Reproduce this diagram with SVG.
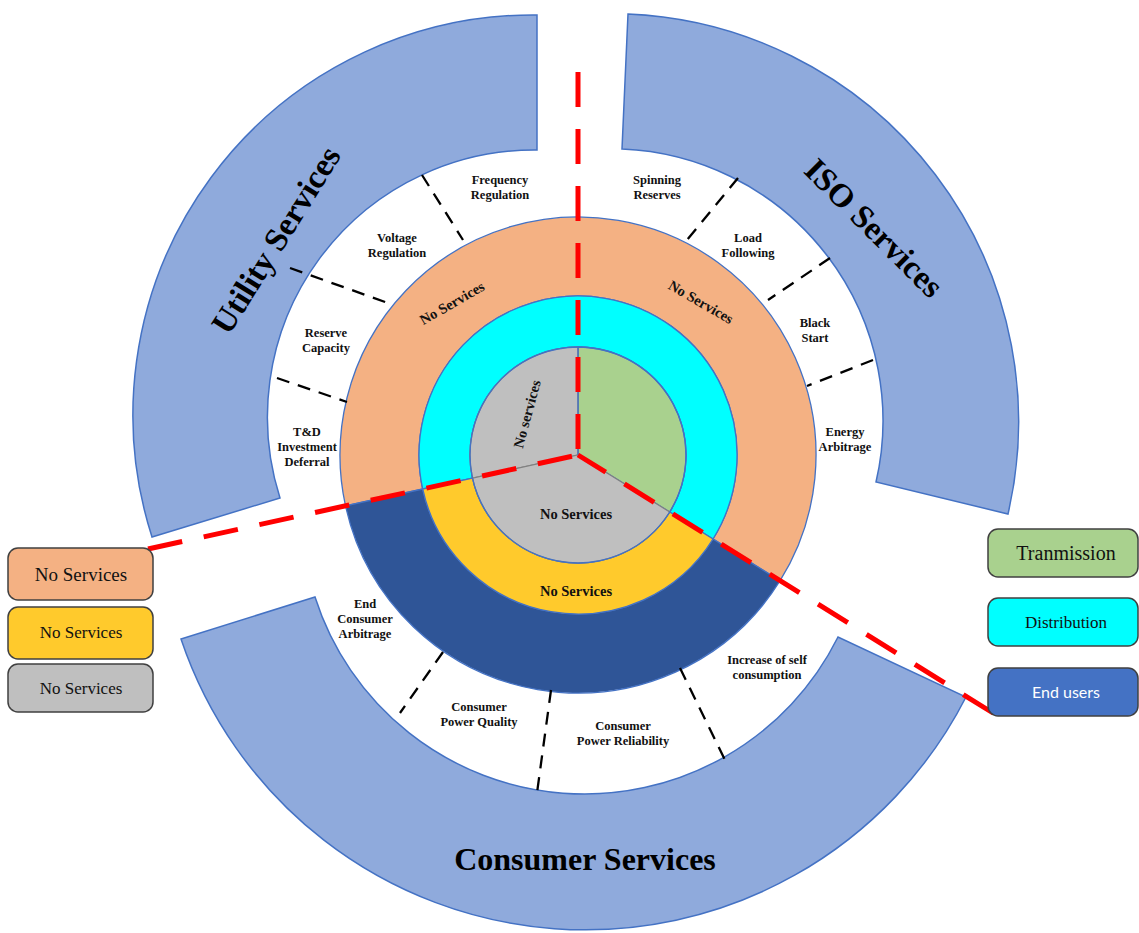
<svg xmlns="http://www.w3.org/2000/svg" width="1139" height="933" viewBox="0 0 1139 933">
<style>
.svc{font-family:"Liberation Serif","Times New Roman",serif;font-weight:bold;font-size:12.5px;text-anchor:middle;fill:#111}
.big{font-family:"Liberation Serif","Times New Roman",serif;font-weight:bold;font-size:33px;text-anchor:middle;fill:#000}
.ns{font-family:"Liberation Serif","Times New Roman",serif;font-weight:bold;font-size:14.5px;text-anchor:middle;fill:#111}
.leg{font-family:"Liberation Serif","Times New Roman",serif;font-size:17px;text-anchor:middle;fill:#111}
.sep{stroke:#000;stroke-width:2.3;stroke-dasharray:13 9;fill:none}
.red{stroke:#FF0000;stroke-width:5;stroke-dasharray:35 22;fill:none}
.edge{stroke:#4472C4;stroke-width:1.3}
.band{fill:#8FAADC;stroke:#4472C4;stroke-width:1.5}
.box{stroke:#404040;stroke-width:1.5}
</style>
<g id="utility-band">
<path class="band" d="M537,15 A400,400 0 0 0 152,537 L280,498 A267,267 0 0 1 537,150 Z"/>
<text class="big" transform="translate(276,240) rotate(-58)" dy="11">Utility Services</text>
</g>
<g id="iso-band">
<path class="band" d="M628,14 A408,408 0 0 1 1008,514 L876,482 A272,272 0 0 0 622,149 Z"/>
<text class="big" transform="translate(874,228) rotate(45)" dy="11">ISO Services</text>
</g>
<g id="consumer-band">
<path class="band" d="M181,639 A427,427 0 0 0 966,697 L838,637 A283,283 0 0 1 315,597 Z"/>
<text class="big" x="585" y="870" style="font-size:32px">Consumer Services</text>
</g>
<g id="rings">
<path class="edge" fill="#F4B183" d="M345.5,505.8 A238,238 0 1 1 780.1,580.7 L713,539 A159,159 0 1 0 422.7,489 Z"/>
<path class="edge" fill="#2F5597" d="M780.1,580.7 A238,238 0 0 1 345.5,505.8 L422.7,489 A159,159 0 0 0 713,539 Z"/>
<path class="edge" fill="#00FFFF" d="M422.7,489 A159,159 0 1 1 713,539 L669.7,512 A108,108 0 1 0 472.5,478.1 Z"/>
<path class="edge" fill="#FFCA2C" d="M713,539 A159,159 0 0 1 422.7,489 L472.5,478.1 A108,108 0 0 0 669.7,512 Z"/>
<path class="edge" fill="#A9D18E" d="M578,455 L578,347 A108,108 0 0 1 669.7,512 Z"/>
<path fill="#BFBFBF" stroke="#808080" stroke-width="1.2" d="M578,455 L472.5,478.1 A108,108 0 0 1 578,347 Z"/>
<path fill="#BFBFBF" stroke="#808080" stroke-width="1.2" d="M578,455 L669.7,512 A108,108 0 0 1 472.5,478.1 Z"/>
<circle cx="578" cy="455" r="108" fill="none" class="edge"/>
<line x1="578" y1="347" x2="578" y2="455" class="edge"/>
<text class="ns" transform="translate(452,303) rotate(-30)" dy="5">No Services</text>
<text class="ns" transform="translate(701,302) rotate(30)" dy="5">No Services</text>
<text class="ns" transform="translate(527,414) rotate(-75)" dy="5">No services</text>
<text class="ns" x="576" y="519">No Services</text>
<text class="ns" x="576" y="596">No Services</text>
</g>
<g id="separators">
<line class="sep" x1="422" y1="175" x2="463" y2="240"/>
<line class="sep" x1="290" y1="268" x2="388" y2="303"/>
<line class="sep" x1="277" y1="378" x2="347" y2="402"/>
<line class="sep" x1="738" y1="178" x2="687" y2="240"/>
<line class="sep" x1="830" y1="258" x2="768" y2="300"/>
<line class="sep" x1="873" y1="360" x2="807" y2="386"/>
<line class="sep" x1="443" y1="652" x2="400" y2="713"/>
<line class="sep" x1="551" y1="690" x2="537" y2="793"/>
<line class="sep" x1="680" y1="668" x2="725" y2="760"/>
</g>
<g id="service-labels">
<text class="svc" x="500" y="184">Frequency<tspan x="500" dy="15">Regulation</tspan></text>
<text class="svc" x="397" y="242">Voltage<tspan x="397" dy="15">Regulation</tspan></text>
<text class="svc" x="326" y="337">Reserve<tspan x="326" dy="15">Capacity</tspan></text>
<text class="svc" x="307" y="436">T&amp;D<tspan x="307" dy="15">Investment</tspan><tspan x="307" dy="15">Deferral</tspan></text>
<text class="svc" x="657" y="184">Spinning<tspan x="657" dy="15">Reserves</tspan></text>
<text class="svc" x="748" y="242">Load<tspan x="748" dy="15">Following</tspan></text>
<text class="svc" x="815" y="327">Black<tspan x="815" dy="15">Start</tspan></text>
<text class="svc" x="845" y="436">Energy<tspan x="845" dy="15">Arbitrage</tspan></text>
<text class="svc" x="365" y="608">End<tspan x="365" dy="15">Consumer</tspan><tspan x="365" dy="15">Arbitrage</tspan></text>
<text class="svc" x="479" y="711">Consumer<tspan x="479" dy="15">Power Quality</tspan></text>
<text class="svc" x="623" y="730">Consumer<tspan x="623" dy="15">Power Reliability</tspan></text>
<text class="svc" x="767" y="664">Increase of self<tspan x="767" dy="15">consumption</tspan></text>
</g>
<g id="connectors">
<line class="red" x1="578" y1="72" x2="578" y2="455"/>
<line class="red" x1="148" y1="549" x2="578" y2="455"/>
<line class="red" x1="993" y1="713" x2="578" y2="455"/>
</g>
<g id="legend-orange">
<rect class="box" x="8" y="548" width="145" height="52" rx="10" fill="#F4B183"/>
<text class="leg" x="81" y="581" style="font-size:19px">No Services</text>
</g>
<g id="legend-yellow">
<rect class="box" x="8" y="607" width="145" height="52" rx="10" fill="#FFCA2C"/>
<text class="leg" x="81" y="638">No Services</text>
</g>
<g id="legend-gray">
<rect class="box" x="8" y="664" width="145" height="48" rx="10" fill="#BFBFBF"/>
<text class="leg" x="81" y="694">No Services</text>
</g>
<g id="legend-transmission">
<rect class="box" x="988" y="529" width="150" height="48" rx="10" fill="#A9D18E"/>
<text class="leg" x="1066" y="560" style="font-size:20px">Tranmission</text>
</g>
<g id="legend-distribution">
<rect class="box" x="988" y="598" width="150" height="48" rx="10" fill="#00FFFF"/>
<text class="leg" x="1066" y="628">Distribution</text>
</g>
<g id="legend-endusers">
<rect class="box" x="988" y="668" width="150" height="48" rx="10" fill="#4472C4"/>
<text x="1066" y="698" style="font-family:Lato,'Open Sans',sans-serif;font-size:16px;text-anchor:middle;fill:#fff">End users</text>
</g>
</svg>
